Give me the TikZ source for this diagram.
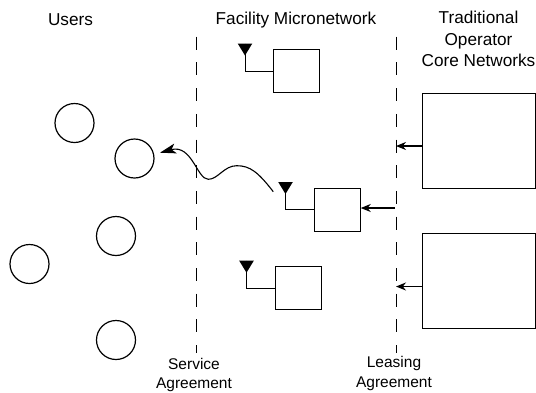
\documentclass[tikz,border=0pt]{standalone}
\usepackage{fontspec}
\setmainfont{Liberation Sans}
\usetikzlibrary{arrows.meta,positioning}
\tikzset{
  user/.style={draw,circle,line width=1.2pt,minimum size=39pt,inner sep=0pt},
  unit/.style={draw,line width=0.9pt,minimum width=46pt,minimum height=43pt,inner sep=0pt},
  core/.style={draw,line width=0.9pt,minimum width=113pt,minimum height=94.5pt,inner sep=0pt},
  label/.style={align=center,font=\fontsize{17.2}{21.8}\selectfont,inner sep=0pt},
  small/.style={align=center,font=\fontsize{15.5}{19.3}\selectfont,inner sep=0pt},
  link/.style={line width=1.1pt,-{Stealth[length=10pt,width=8pt]}},
  wave/.style={line width=1.1pt,-{Stealth[length=16pt,width=10pt,inset=4pt]}},
  border/.style={line width=0.9pt,dash pattern=on 13pt off 12.7pt}
}
\begin{document}
\begin{tikzpicture}[x=1pt,y=-1pt]
\useasboundingbox (0,0) rectangle (536,392);
% users
\node [user] (u1) at (74.5,123) {};
\node [user] (u2) at (134.5,158.5) {};
\node [user] (u3) at (116,236) {};
\node [user] (u4) at (29.5,264) {};
\node [user] (u5) at (116,340) {};
% borders
\coordinate (s1) at (196,36.7);
\coordinate (s2) at (196,353);
\coordinate (l1) at (396,36.7);
\coordinate (l2) at (396,353);
\draw [border] (s1) -- (s2);
\draw [border] (l1) -- (l2);
% units
\node [unit] (a) at (296.5,71) {};
\node [unit] (b) at (337.3,209.5) {};
\node [unit] (c) at (298.3,288) {};
\node [core] (n1) at (479.2,141) {};
\node [core] (n2) at (479.2,280.7) {};
% antennas
\coordinate (a1) at (245,43.5);
\coordinate (b1) at (285.5,182);
\coordinate (c1) at (246.5,260.7);
\foreach \t/\m in {a1/a,b1/b,c1/c} {
  \fill (\t) ++(-7.3,0) -- ++(14.6,0) -- ++(-7.3,12) -- cycle;
  \draw [line width=1pt] (\t) -- (\t |- \m.west) -- (\m.west);
}
% links
\coordinate (p1) at (396,146);
\coordinate (p2) at (395,208);
\coordinate (p3) at (396,286.5);
\draw [link] (n1.west |- p1) -- (p1);
\draw [link] (p2) -- (b.east |- p2);
\draw [link] (n2.west |- p3) -- (p3);
\coordinate (w1) at (273.3,191.7);
\coordinate (w2) at (160,152.7);
\draw [wave] (w1) .. controls (258,172) and (250,165.7) .. (236.7,165.7) .. controls (224,165.7) and (218,179.3) .. (208.3,179.3) .. controls (197,179.3) and (192,144) .. (w2);
% labels
\node [label] (users) at (70.5,20) {Users};
\node [label] (facility) at (296,20) {Facility Micronetwork};
\node [label] (operator) at (478.5,39) {Traditional\\Operator\\Core Networks};
\node [small] (service) at (194,375) {Service\\Agreement};
\node [small] (leasing) at (394,373.5) {Leasing\\Agreement};
\end{tikzpicture}
\end{document}
